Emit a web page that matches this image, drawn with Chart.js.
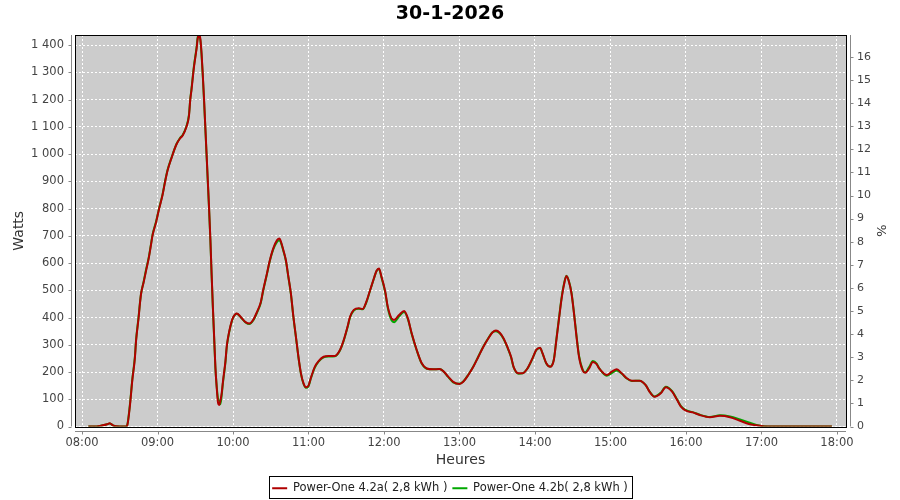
<!DOCTYPE html>
<html lang="fr">
<head>
<meta charset="UTF-8">
<title>30-1-2026</title>
<script src="https://cdn.jsdelivr.net/npm/chart.js@4.4.1/dist/chart.umd.min.js"></script>
<style>
    body{ margin:0; background:#fff; }
    #board{ width:900px; height:500px; }
</style>
</head>
<body>
<div id="board"><canvas id="chart1" width="900" height="500"></canvas></div>
<script>
// relevés toutes les quelques minutes
const heures = [
    '08:05','08:10','08:15','08:20','08:22','08:25','08:30','08:35','08:36','08:38','08:40','08:42','08:43','08:45','08:46','08:47','08:49','08:51','08:53','08:55','08:56','08:59',
    '09:01','09:04','09:06','09:08','09:11','09:15','09:18','09:20','09:23','09:25','09:26','09:27','09:29','09:31','09:32','09:33','09:34','09:35','09:36','09:37','09:38','09:39','09:40','09:41','09:42','09:43','09:44','09:45','09:46','09:47','09:48','09:49','09:50','09:51','09:52','09:54','09:55','09:56','09:58',
    '10:00','10:03','10:06','10:10','10:13','10:16','10:19','10:22','10:24','10:27','10:29','10:32','10:35','10:37','10:38','10:40','10:42','10:44','10:46','10:48','10:50','10:52','10:54','10:56','10:58',
    '11:00','11:02','11:05','11:08','11:12','11:16','11:21','11:25','11:28','11:31','11:33','11:36','11:40','11:43','11:46','11:49','11:52','11:54','11:56','11:58',
    '12:01','12:03','12:06','12:08','12:12','12:16','12:19','12:22','12:26','12:30','12:34','12:39','12:44','12:47','12:51','12:55',
    '13:00','13:03','13:07','13:11','13:15','13:19','13:23','13:26','13:29','13:32','13:35','13:38','13:41','13:43','13:47','13:50','13:54','13:58',
    '14:01','14:04','14:06','14:09','14:12','14:15','14:17','14:19','14:21','14:23','14:25','14:27','14:29','14:31','14:33','14:35','14:38','14:40','14:43','14:46','14:49','14:51','14:57',
    '15:01','15:05','15:09','15:13','15:17','15:23','15:28','15:31','15:35','15:40','15:44','15:49','15:53','15:56',
    '16:00','16:06','16:11','16:19','16:27','16:35','16:43','16:50','16:56',
    '17:05','17:56'
];
const wattsA = [
    0,0,3,8,12,3,0,0,5,73,171,250,317,400,450,489,530,574,617,672,700,752,
    794,850,898,940,984,1035,1058,1068,1100,1140,1198,1235,1320,1385,1425,1437,1425,1370,1290,1200,1100,1000,900,800,690,560,440,330,219,146,90,79,95,122,165,240,293,325,370,
    400,415,403,383,378,391,420,455,501,562,605,654,684,690,680,648,611,550,489,403,330,256,195,159,144,
    150,180,219,240,256,259,259,281,317,366,403,428,434,431,458,501,544,571,580,550,
    495,440,397,391,409,424,397,342,281,232,213,210,211,204,183,164,
    156,164,189,219,256,293,324,344,352,344,324,293,256,219,195,195,213,250,
    281,289,269,232,219,244,317,391,464,519,552,531,489,415,330,256,205,197,213,237,229,213,189,
    201,210,195,177,168,168,152,128,109,122,144,128,97,73,
    58,51,42,34,39,34,21,9,5,
    0,0
];
const wattsB = [
    0,0,3,8,11,3,0,0,6,78,175,255,320,405,452,490,532,578,620,675,703,755,
    796,852,900,942,985,1036,1060,1070,1102,1145,1200,1240,1325,1390,1430,1435,1420,1365,1285,1195,1095,995,895,795,685,555,435,325,215,150,105,95,82,115,160,236,290,322,368,
    398,414,402,382,376,389,417,452,498,560,603,650,678,684,676,645,609,548,487,401,328,254,193,157,142,
    148,178,216,238,254,257,258,279,315,363,400,426,432,430,456,500,543,570,578,547,
    492,436,390,383,404,420,394,340,280,231,212,210,211,204,182,162,
    157,165,190,220,257,294,325,345,350,342,322,291,254,218,194,195,213,249,
    280,288,268,231,220,246,320,395,468,522,553,533,492,418,334,260,208,199,218,240,231,214,186,
    196,206,194,176,167,168,152,129,110,124,146,130,99,75,
    60,52,43,35,41,37,26,15,6,
    0,0
];
const nomA = 'Power-One 4.2a( 2,8 kWh )';
const nomB = 'Power-One 4.2b( 2,8 kWh )';
const titre = '30-1-2026';

const enHeures = s => +s.slice(0, 2) + s.slice(3) / 60;
const points = arr => arr.map((w, i) => ({ x: enHeures(heures[i]), y: w }));
const hhmm = v => String(Math.round(v)).padStart(2, '0') + ':00';
const milliers = v => String(v).replace(/\B(?=(\d{3})+(?!\d))/g, ' ');

const police = 'DejaVu Sans';
const gris = '#444';

// fond gris, cadre noir, axes décalés et cadre de légende (style JFreeChart)
const cadre = {
    id: 'cadre',
    beforeDraw(chart) {
        const { ctx, chartArea: a } = chart;
        ctx.save();
        ctx.fillStyle = '#cccccc';
        ctx.fillRect(a.left, a.top, a.right - a.left, a.bottom - a.top);
        ctx.restore();
    },
    afterDraw(chart) {
        const { ctx, chartArea: a, scales } = chart;
        ctx.save();
        ctx.strokeStyle = '#000';
        ctx.lineWidth = 1;
        ctx.strokeRect(Math.round(a.left) + 0.5, Math.round(a.top) + 0.5,
            Math.round(a.right - a.left), Math.round(a.bottom - a.top));

        ctx.strokeStyle = '#888';
        ctx.beginPath();
        const xl = Math.round(a.left) - 3.5, xr = Math.round(a.right) + 4.5, yb = Math.round(a.bottom) + 4.5;
        ctx.moveTo(xl, a.top); ctx.lineTo(xl, a.bottom);
        ctx.moveTo(xr, a.top); ctx.lineTo(xr, a.bottom);
        ctx.moveTo(a.left, yb); ctx.lineTo(a.right, yb);
        scales.y.ticks.forEach(t => {
            const p = Math.round(scales.y.getPixelForValue(t.value)) + 0.5;
            ctx.moveTo(xl - 3, p); ctx.lineTo(xl, p);
        });
        scales.y2.ticks.forEach(t => {
            const p = Math.round(scales.y2.getPixelForValue(t.value)) + 0.5;
            ctx.moveTo(xr, p); ctx.lineTo(xr + 3, p);
        });
        scales.x.ticks.forEach(t => {
            const p = Math.round(scales.x.getPixelForValue(t.value)) + 0.5;
            ctx.moveTo(p, yb); ctx.lineTo(p, yb + 3);
        });
        ctx.stroke();

        const boxes = chart.legend.legendHitBoxes;
        if (boxes && boxes.length) {
            const l = Math.min(...boxes.map(b => b.left)) - 3;
            const r = Math.max(...boxes.map(b => b.left + b.width)) + 4;
            ctx.strokeStyle = '#000';
            ctx.strokeRect(Math.round(l) + 0.5, 476.5, Math.round(r - l), 22);
        }
        ctx.restore();
    }
};

const ctx = document.getElementById('chart1').getContext('2d');
new Chart(ctx, {
    type: 'line',
    data: {
        datasets: [
            { label: nomA, data: points(wattsA), borderColor: '#b00000', backgroundColor: '#b00000', borderWidth: 2 },
            { label: nomB, data: points(wattsB), borderColor: '#00a800', backgroundColor: '#00a800', borderWidth: 2 }
        ]
    },
    options: {
        responsive: false,
        animation: false,
        layout: { padding: { top: 0, left: 0, right: 0, bottom: -4 } },
        elements: {
            point: { radius: 0 },
            line: { borderWidth: 2, cubicInterpolationMode: 'monotone' }
        },
        plugins: {
            title: {
                display: true,
                text: titre,
                color: '#000',
                font: { family: police, size: 19, weight: 'bold' },
                padding: { top: 2.3, bottom: 9.9 }
            },
            legend: {
                position: 'bottom',
                labels: {
                    usePointStyle: true,
                    pointStyle: 'line',
                    pointStyleWidth: 15,
                    padding: 5,
                    color: '#222',
                    font: { family: police, size: 11.5 }
                }
            },
            tooltip: { enabled: false }
        },
        scales: {
            x: {
                type: 'linear',
                min: 7.907,
                max: 18.12,
                afterFit: s => { s.height = 51; },
                ticks: {
                    stepSize: 1,
                    includeBounds: false,
                    padding: 9.5,
                    color: gris,
                    font: { family: police, size: 11.5 },
                    callback: v => hhmm(v)
                },
                grid: { color: '#ffffff', drawTicks: false },
                border: { display: false, dash: [2, 2] },
                title: {
                    display: true,
                    text: 'Heures',
                    color: '#333',
                    font: { family: police, size: 14 },
                    padding: { top: 0, bottom: 9 }
                }
            },
            y: {
                position: 'left',
                min: 0,
                max: 1437,
                afterFit: s => { s.width = 75; },
                ticks: {
                    stepSize: 100,
                    includeBounds: false,
                    padding: 11,
                    color: gris,
                    font: { family: police, size: 11.5 },
                    callback: v => milliers(v)
                },
                grid: { color: '#ffffff', drawTicks: false },
                border: { display: false, dash: [2, 2] },
                title: {
                    display: true,
                    text: 'Watts',
                    color: '#333',
                    font: { family: police, size: 14 },
                    padding: { top: 11, bottom: 0 }
                }
            },
            y2: {
                position: 'right',
                min: 0,
                max: 16.95,
                afterFit: s => { s.width = 54; },
                ticks: {
                    stepSize: 1,
                    includeBounds: false,
                    padding: 11,
                    color: gris,
                    font: { family: police, size: 11 }
                },
                grid: { display: false, drawTicks: false },
                border: { display: false },
                title: {
                    display: true,
                    text: '%',
                    color: '#333',
                    font: { family: police, size: 13 },
                    padding: { top: 12, bottom: 0 }
                }
            }
        }
    },
    plugins: [cadre]
});
</script>
</body>
</html>
